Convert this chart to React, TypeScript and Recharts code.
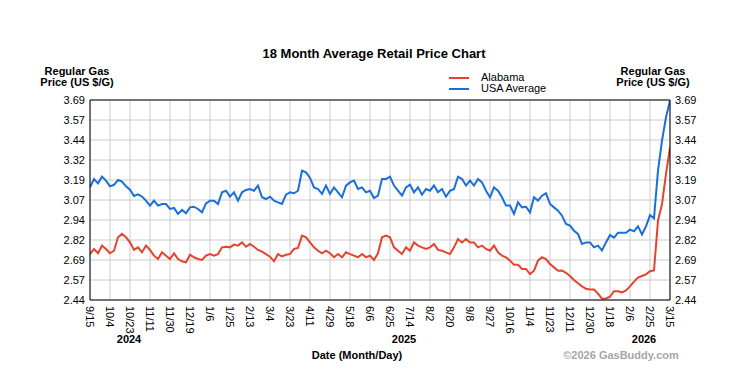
import React from "react";
import {
  LineChart,
  Line,
  XAxis,
  YAxis,
  CartesianGrid,
  ReferenceLine,
  Legend,
} from "recharts";

// x tick labels (Month/Day), one every 5 samples
const xTickLabels = [
  "9/15", "10/4", "10/23", "11/11", "11/30", "12/19", "1/6", "1/25", "2/13", "3/4",
  "3/23", "4/11", "4/29", "5/18", "6/6", "6/25", "7/14", "8/2", "8/20", "9/8",
  "9/27", "10/16", "11/4", "11/23", "12/11", "12/30", "1/18", "2/6", "2/25", "3/15",
];

const yTickValues = [2.44, 2.565, 2.69, 2.815, 2.94, 3.065, 3.19, 3.315, 3.44, 3.565, 3.69];
const yTickLabels = ["2.44", "2.57", "2.69", "2.82", "2.94", "3.07", "3.19", "3.32", "3.44", "3.57", "3.69"];

const yearLabels = ["2024", "2025", "2026"];

const usaAverage = [
  3.144, 3.196, 3.169, 3.211, 3.186, 3.15, 3.16, 3.19, 3.18, 3.15,
  3.13, 3.09, 3.1, 3.086, 3.061, 3.03, 3.061, 3.03, 3.04, 3.04,
  3.009, 3.015, 2.978, 3.003, 2.982, 3.019, 3.023, 3.009, 2.988, 3.044,
  3.061, 3.061, 3.04, 3.113, 3.123, 3.086, 3.113, 3.061, 3.113, 3.128,
  3.134, 3.123, 3.155, 3.082, 3.071, 3.086, 3.061, 3.05, 3.04, 3.098,
  3.113, 3.107, 3.123, 3.248, 3.238, 3.203, 3.144, 3.134, 3.103, 3.155,
  3.103, 3.144, 3.113, 3.082, 3.155, 3.175, 3.186, 3.134, 3.144, 3.113,
  3.123, 3.077, 3.092, 3.196, 3.196, 3.211, 3.155, 3.123, 3.092, 3.144,
  3.161, 3.113, 3.144, 3.098, 3.134, 3.123, 3.155, 3.113, 3.134, 3.086,
  3.123, 3.134, 3.211, 3.196, 3.155, 3.186, 3.155, 3.196, 3.175, 3.123,
  3.082, 3.144, 3.123, 3.082, 3.03, 3.03, 2.978, 3.05, 3.019, 3.023,
  2.988, 3.082, 3.061, 3.092, 3.107, 3.04, 3.019, 2.998, 2.967, 2.915,
  2.905, 2.873, 2.853, 2.79, 2.8, 2.8, 2.769, 2.78, 2.75, 2.8,
  2.846, 2.83, 2.86, 2.86, 2.86, 2.88, 2.87, 2.9, 2.85, 2.9,
  2.97, 2.95, 3.248, 3.436, 3.582, 3.686,
];

const alabama = [
  2.727, 2.759, 2.732, 2.78, 2.759, 2.732, 2.748, 2.832, 2.853, 2.832,
  2.8, 2.753, 2.769, 2.738, 2.78, 2.753, 2.717, 2.696, 2.738, 2.717,
  2.696, 2.732, 2.696, 2.682, 2.675, 2.723, 2.707, 2.696, 2.69, 2.717,
  2.727, 2.717, 2.727, 2.769, 2.773, 2.769, 2.786, 2.78, 2.8, 2.773,
  2.79, 2.773, 2.753, 2.742, 2.727, 2.711, 2.682, 2.727, 2.713, 2.723,
  2.727, 2.759, 2.765, 2.842, 2.832, 2.8, 2.769, 2.748, 2.732, 2.748,
  2.732, 2.707, 2.727, 2.707, 2.738, 2.727, 2.717, 2.707, 2.727, 2.707,
  2.717, 2.69, 2.732, 2.832, 2.842, 2.832, 2.769, 2.748, 2.727, 2.769,
  2.748, 2.8, 2.78, 2.769, 2.759, 2.769, 2.79, 2.753, 2.748, 2.738,
  2.727, 2.769, 2.821, 2.8, 2.821, 2.8, 2.8, 2.769, 2.78, 2.759,
  2.748, 2.78, 2.738, 2.717, 2.707, 2.686, 2.661, 2.661, 2.634, 2.634,
  2.602, 2.623, 2.686, 2.707, 2.696, 2.665, 2.644, 2.623, 2.625, 2.61,
  2.59, 2.565, 2.545, 2.525, 2.51, 2.505, 2.505, 2.48, 2.448, 2.45,
  2.46, 2.495, 2.495, 2.488, 2.5, 2.525, 2.555, 2.58, 2.59, 2.6,
  2.62, 2.625, 2.936, 3.04, 3.228, 3.394,
];

const data = alabama.map((v, i) => ({ i, alabama: v, usa: usaAverage[i] }));
const xTicks = xTickLabels.map((_, k) => k * 5);

const FONT = "Arial, 'Liberation Sans', sans-serif";
const RED = "#e5432d";
const BLUE = "#1a6fd8";

const XTick = (props: any) => {
  const { x, y, payload } = props;
  const label = xTickLabels[Math.round(payload.value / 5)];
  return (
    <text
      x={x}
      y={y}
      transform={`rotate(90 ${x} ${y})`}
      textAnchor="start"
      dominantBaseline="central"
      fontSize={11}
      fontFamily={FONT}
      fill="#000"
    >
      {label}
    </text>
  );
};

const LegendContent = () => (
  <div style={{ fontFamily: FONT, fontSize: 11, color: "#000", lineHeight: "11px" }}>
    {[
      { name: "Alabama", color: RED },
      { name: "USA Average", color: BLUE },
    ].map((it) => (
      <div key={it.name} style={{ display: "flex", alignItems: "center", height: 11 }}>
        <span style={{ display: "inline-block", width: 20, height: 2, background: it.color, marginRight: 12 }} />
        <span>{it.name}</span>
      </div>
    ))}
  </div>
);

const Txt = ({ x, y, children, size = 11, bold = true, color = "#000" }: any) => (
  <div
    style={{
      position: "absolute",
      left: x,
      top: y,
      transform: "translate(-50%, -50%)",
      fontFamily: FONT,
      fontSize: size,
      fontWeight: bold ? "bold" : "normal",
      color,
      whiteSpace: "nowrap",
      lineHeight: 1,
    }}
  >
    {children}
  </div>
);

export default function App() {
  return (
    <div style={{ position: "absolute", left: 0, top: 0, width: 752, height: 383, background: "#fff" }}>
      <style>{`body{margin:0}`}</style>
      <LineChart
        width={752}
        height={383}
        data={data}
        margin={{ top: 100, right: 42, bottom: 43, left: 50 }}
      >
        <CartesianGrid yAxisId="left" stroke="#cccccc" strokeWidth={1} />
        <XAxis
          dataKey="i"
          type="number"
          domain={[0, 145]}
          ticks={xTicks}
          interval={0}
          tick={<XTick />}
          tickLine={false}
          tickSize={4}
          tickMargin={2}
          height={40}
          axisLine={{ stroke: "#000" }}
          allowDataOverflow
        />
        <YAxis
          yAxisId="left"
          domain={[2.44, 3.69]}
          ticks={yTickValues}
          interval={0}
          tickFormatter={(v: number) => yTickLabels[yTickValues.indexOf(v)]}
          tick={{ fontSize: 11, fontFamily: FONT, fill: "#000" }}
          tickLine={false}
          tickSize={3}
          tickMargin={2}
          width={40}
          axisLine={{ stroke: "#000" }}
          allowDataOverflow
        />
        <YAxis
          yAxisId="right"
          orientation="right"
          domain={[2.44, 3.69]}
          ticks={yTickValues}
          interval={0}
          tickFormatter={(v: number) => yTickLabels[yTickValues.indexOf(v)]}
          tick={{ fontSize: 11, fontFamily: FONT, fill: "#000" }}
          tickLine={false}
          tickSize={3}
          tickMargin={2}
          width={40}
          axisLine={{ stroke: "#000" }}
          allowDataOverflow
        />
        <ReferenceLine yAxisId="left" y={3.69} stroke="#000" strokeWidth={1} />
        <Line
          yAxisId="left"
          type="linear"
          dataKey="alabama"
          name="Alabama"
          stroke={RED}
          strokeWidth={2}
          dot={false}
          isAnimationActive={false}
        />
        <Line
          yAxisId="left"
          type="linear"
          dataKey="usa"
          name="USA Average"
          stroke={BLUE}
          strokeWidth={2}
          dot={false}
          isAnimationActive={false}
        />
        <Legend
          layout="horizontal"
          verticalAlign="middle"
          align="center"
          content={<LegendContent />}
          wrapperStyle={{ position: "absolute", left: 449, top: 72, width: 120, height: 22 }}
        />
      </LineChart>

      <Txt x={374} y={53} size={13}>18 Month Average Retail Price Chart</Txt>
      <Txt x={77} y={71}>Regular Gas</Txt>
      <Txt x={77} y={82}>Price (US $/G)</Txt>
      <Txt x={653} y={71}>Regular Gas</Txt>
      <Txt x={653} y={82}>Price (US $/G)</Txt>
      <Txt x={129} y={339}>{yearLabels[0]}</Txt>
      <Txt x={404} y={339}>{yearLabels[1]}</Txt>
      <Txt x={644} y={339}>{yearLabels[2]}</Txt>
      <Txt x={357} y={355}>Date (Month/Day)</Txt>
      <Txt x={621} y={355} color="#a6a6a6">©2026 GasBuddy.com</Txt>
    </div>
  );
}
